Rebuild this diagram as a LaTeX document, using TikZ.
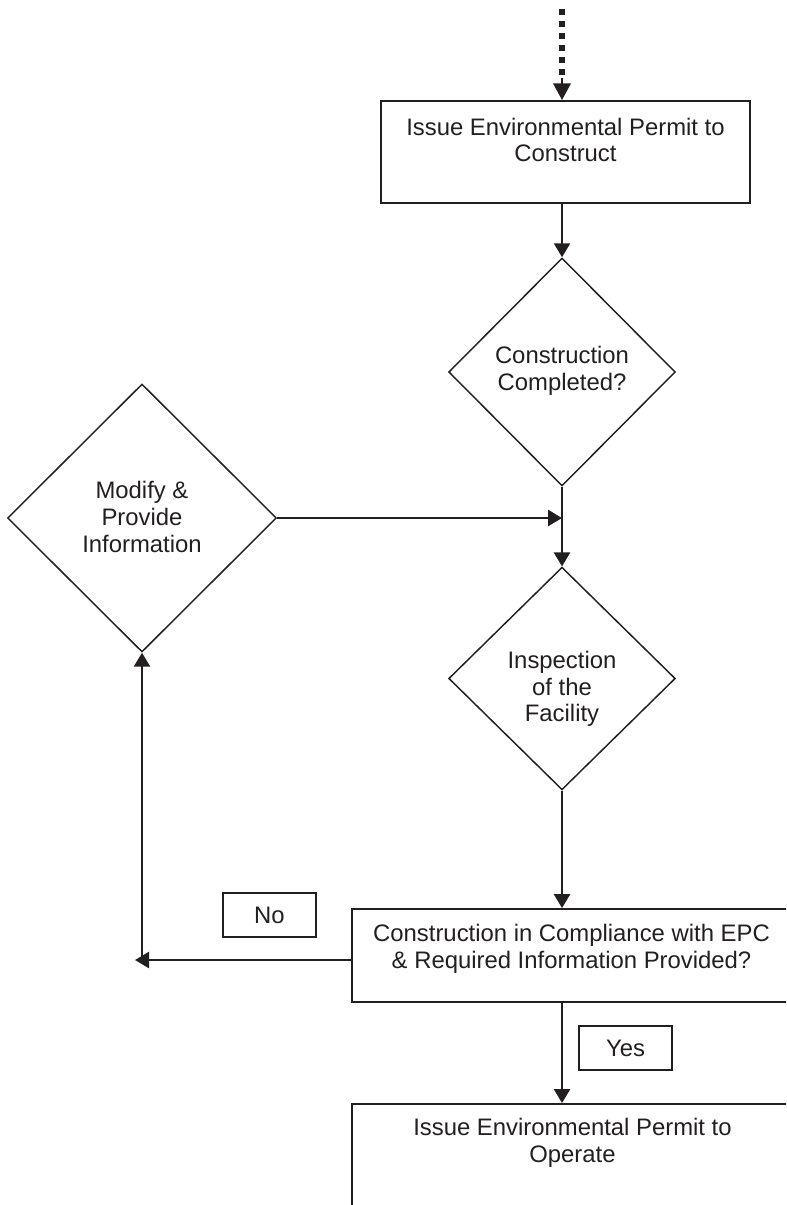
\documentclass[tikz,border=0pt]{standalone}
\usepackage{fontspec}
\setmainfont{Liberation Sans}
\usetikzlibrary{shapes.geometric,arrows.meta}
\definecolor{ink}{HTML}{231F20}
\begin{document}
\begin{tikzpicture}[x=0.75pt,y=-0.75pt, color=ink,
  txt/.style={font=\fontsize{17.9pt}{20pt}\selectfont, align=center, inner sep=0pt},
  boxn/.style={draw, line width=1.4pt, inner sep=0pt},
  dia/.style={draw, diamond, line width=1.1pt, inner sep=0pt},
  lbl/.style={draw, line width=1.4pt, inner sep=0pt, minimum width=69.75pt, minimum height=33pt, font=\fontsize{17.9pt}{20pt}\selectfont},
  conn/.style={line width=1.9pt, -{Triangle[length=10.5pt,width=12pt]}}]
\path[use as bounding box] (0,0) rectangle (786,1205);
\clip (0,0) rectangle (786,1205);
% nodes
\node[boxn, minimum width=276.75pt, minimum height=76.5pt] (box1) at (565.5,152) {};
\node[txt] (t1) at (565.5,140) {Issue Environmental Permit to\\Construct};
\node[dia, minimum width=170pt, minimum height=171pt] (d1) at (562,372) {};
\node[txt] (td1) at (562,371) {Construction\\Completed?};
\node[dia, minimum width=201.75pt, minimum height=201pt] (mod) at (142,518) {};
\node[txt] (tmod) at (142,517) {Modify \&\\Provide\\Information};
\node[dia, minimum width=170pt, minimum height=167pt] (d2) at (562,678.5) {};
\node[txt] (td2) at (562,689) {Inspection\\of the\\Facility};
\node[boxn, minimum width=329.25pt, minimum height=69.75pt] (box2) at (571.5,955.5) {};
\node[txt] (t2) at (571.5,948.5) {Construction in Compliance with EPC\\\& Required Information Provided?};
\node[boxn, minimum width=330.75pt, minimum height=84pt] (box3) at (572.5,1160) {};
\node[txt] (t3) at (572.5,1143) {Issue Environmental Permit to\\Operate};
\node[lbl] (no) at (269.5,915) {No};
\node[lbl] (yes) at (625.5,1048) {Yes};
% top incoming dotted arrow
\coordinate (start) at (562,9);
\coordinate (dotend) at (562,76);
\draw[line width=4.5pt, dash pattern=on 4.5pt off 4.5pt] (start) -- (dotend);
\draw[line width=1.9pt, -{Triangle[length=12.5pt,width=13pt]}] (562,78) -- (box1.north -| start);
% connectors
\draw[conn] (box1.south -| d1.north) -- (d1.north);
\draw[conn] (d1.south) -- (d2.north);
\coordinate (j) at (d1.south |- mod.east);
\draw[conn] (mod.east) -- (j);
\draw[conn] (d2.south) -- (d2.south |- box2.north);
\coordinate (b2s) at (box2.south -| d2.south);
\coordinate (b3n) at (box3.north -| d2.south);
\draw[conn] (b2s) -- (b3n);
\coordinate (nol) at (135,960);
\draw[conn] (box2.west |- nol) -- (nol);
\draw[conn] (mod.south |- nol) -- (mod.south);
\end{tikzpicture}
\end{document}
